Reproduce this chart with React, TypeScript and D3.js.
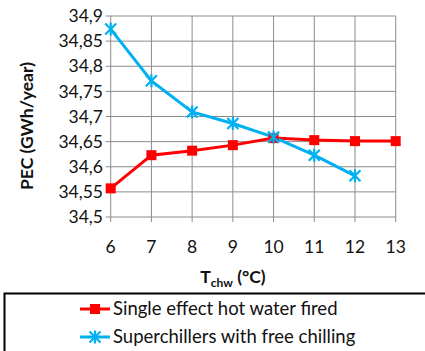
import React from "react";
import * as d3 from "d3";

const xValues = [6, 7, 8, 9, 10, 11, 12, 13];
const singleEffect = [34.557, 34.623, 34.632, 34.643, 34.657, 34.653, 34.651, 34.651];
const superchillers = [34.874, 34.771, 34.709, 34.686, 34.659, 34.623, 34.582];
const yTicks = [34.5, 34.55, 34.6, 34.65, 34.7, 34.75, 34.8, 34.85, 34.9];
const seriesNames = ["Single effect hot water fired", "Superchillers with free chilling"];

const RED = "#ff0000";
const BLUE = "#00b0f0";
const FONT = "Lato, 'Open Sans', sans-serif";

function Star({ x, y, color }: { x: number; y: number; color: string }) {
  const r = 5.5;
  return (
    <g stroke={color} strokeWidth={2.2}>
      <line x1={x - r} y1={y - r} x2={x + r} y2={y + r} />
      <line x1={x - r} y1={y + r} x2={x + r} y2={y - r} />
      <line x1={x} y1={y - r - 1} x2={x} y2={y + r + 1} />
    </g>
  );
}

export default function App() {
  const W = 425, H = 351;
  const x = d3.scaleLinear().domain([6, 13]).range([110.7, 395.7]);
  const y = d3.scaleLinear().domain([34.5, 34.9]).range([217, 16]);
  const line = d3.line<number>().x((_, i) => x(xValues[i])).y((d) => y(d));
  const fmt = (v: number) => String(+v.toFixed(2)).replace(".", ",");

  return (
    <svg width={W} height={H} style={{ position: "absolute", left: 0, top: 0, background: "#fff" }}>
      <rect x={0} y={0} width={W} height={H} fill="#fff" />
      {yTicks.map((t) => (
        <line key={"h" + t} x1={x(6) - 5} x2={x(13)} y1={y(t)} y2={y(t)} stroke="#8c8c8c" strokeWidth={1} />
      ))}
      {xValues.map((t) => (
        <line key={"v" + t} x1={x(t)} x2={x(t)} y1={y(34.9)} y2={y(34.5) + 5} stroke="#8c8c8c" strokeWidth={1} />
      ))}
      {yTicks.map((t) => (
        <text key={"yl" + t} x={103} y={y(t)} dy="0.35em" textAnchor="end" fontFamily={FONT} fontSize={17.5} fill="#111">
          {fmt(t)}
        </text>
      ))}
      {xValues.map((t) => (
        <text key={"xl" + t} x={x(t)} y={247} dy="0.35em" textAnchor="middle" fontFamily={FONT} fontSize={17.5} fill="#111">
          {t}
        </text>
      ))}
      <text transform="translate(27,126) rotate(-90)" textAnchor="middle" dy="0.35em" fontFamily={FONT} fontSize={17.5} fontWeight="bold" fill="#111">
        PEC (GWh/year)
      </text>
      <text x={233} y={277} dy="0.35em" textAnchor="middle" fontFamily={FONT} fontSize={17.5} fontWeight="bold" fill="#111">
        T<tspan fontSize={12} dy="4">chw</tspan><tspan dy="-4"> (°C)</tspan>
      </text>
      <path d={line(singleEffect) || ""} fill="none" stroke={RED} strokeWidth={3} />
      <path d={line(superchillers) || ""} fill="none" stroke={BLUE} strokeWidth={3} />
      {singleEffect.map((v, i) => (
        <rect key={"r" + i} x={x(xValues[i]) - 5} y={y(v) - 5} width={10} height={10} fill={RED} />
      ))}
      {superchillers.map((v, i) => (
        <Star key={"s" + i} x={x(xValues[i])} y={y(v)} color={BLUE} />
      ))}
      <rect x={4.5} y={293.5} width={440} height={70} fill="#fff" stroke="#000" strokeWidth={2} />
      {seriesNames.map((name, i) => {
        const ly = 309 + i * 28;
        return (
          <g key={name}>
            <line x1={80} x2={110} y1={ly} y2={ly} stroke={i === 0 ? RED : BLUE} strokeWidth={3} />
            {i === 0 ? (
              <rect x={90} y={ly - 5} width={10} height={10} fill={RED} />
            ) : (
              <Star x={95} y={ly} color={BLUE} />
            )}
            <text x={113} y={ly} dy="0.35em" fontFamily={FONT} fontSize={18.5} fill="#111">
              {name}
            </text>
          </g>
        );
      })}
    </svg>
  );
}
